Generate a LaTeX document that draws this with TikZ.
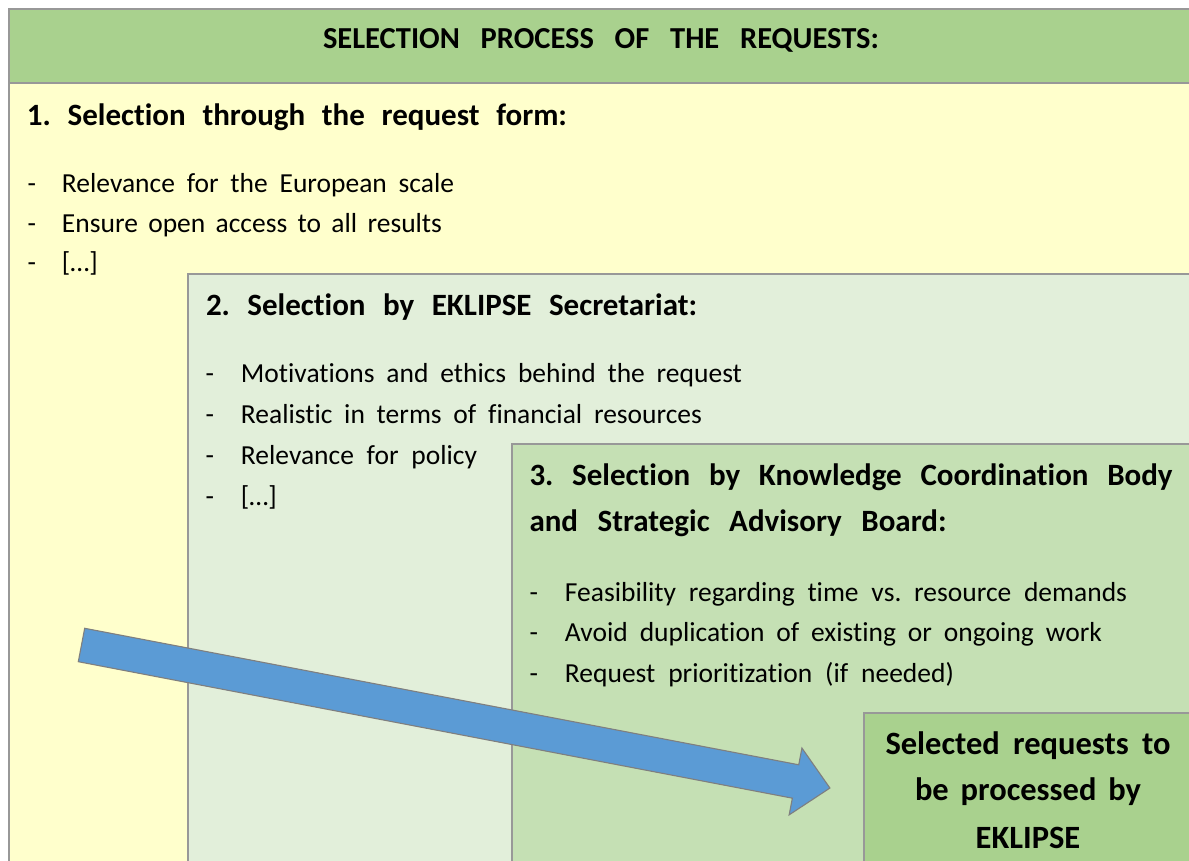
\documentclass[tikz,border=0pt]{standalone}
\usepackage{fontspec}
\setmainfont{Carlito}[Ligatures=NoCommon]
\usetikzlibrary{calc}
\definecolor{hdrgreen}{HTML}{A9D18E}
\definecolor{paleyellow}{HTML}{FFFFCC}
\definecolor{palegreen}{HTML}{E2EFDA}
\definecolor{midgreen}{HTML}{C5E0B4}
\definecolor{arrowblue}{HTML}{5B9BD5}
\definecolor{bordergray}{HTML}{989898}
\definecolor{arrowedge}{HTML}{7F7F7F}
\newcommand{\fitw}[2]{\makebox[#1][s]{#2}}
\frenchspacing
\begin{document}
\begin{tikzpicture}[x=1pt,y=-1pt,
  panel/.style={draw=bordergray, line width=1.5pt, anchor=north west, inner sep=0pt, outer sep=0pt},
  txt/.style={anchor=base west, inner sep=0pt, outer sep=0pt, text=black},
  headtxt/.style={txt, font=\fontsize{31}{37}\selectfont\bfseries},
  itemtxt/.style={txt, font=\fontsize{27.5}{33}\selectfont},
  titletxt/.style={txt, anchor=base, font=\fontsize{30.5}{36}\selectfont\bfseries},
  resulttxt/.style={txt, anchor=base, font=\fontsize{32.5}{38}\selectfont\bfseries},
  bigarrow/.style={fill=arrowblue, draw=arrowedge, line width=1.1pt, line join=miter}
]
\useasboundingbox (0,0) rectangle (1189,861);
\clip (0,0) rectangle (1189,861);

% panels
\node[panel, fill=paleyellow, minimum width=1200pt, minimum height=870pt] (p1) at (9,9) {};
\node[panel, fill=hdrgreen, minimum width=1200pt, minimum height=74pt] (hdr) at (9,9) {};
\node[panel, fill=palegreen, minimum width=1020pt, minimum height=620pt] (p2) at (188,274) {};
\node[panel, fill=midgreen, minimum width=700pt, minimum height=440pt] (p3) at (512,444) {};
\node[panel, fill=hdrgreen, minimum width=340pt, minimum height=170pt] (p4) at (864,713) {};

% title
\node[titletxt] (title) at (601,48.3) {\fitw{556pt}{SELECTION PROCESS OF THE REQUESTS:}};

% box 1
\node[headtxt] (h1) at (27,126) {\fitw{540pt}{1. Selection through the request form:}};
\node[itemtxt] (i1a) at (27.5,192.7) {\makebox[34.5pt][l]{-}\fitw{392pt}{Relevance for the European scale}};
\node[itemtxt] (i1b) at (27.5,232.3) {\makebox[34.5pt][l]{-}\fitw{380pt}{Ensure open access to all results}};
\node[itemtxt] (i1c) at (27.5,272) {\makebox[34.5pt][l]{-}[…]};

% box 2
\node[headtxt] (h2) at (206,315) {\fitw{491pt}{2. Selection by EKLIPSE Secretariat:}};
\node[itemtxt] (i2a) at (205.5,382.7) {\makebox[35.5pt][l]{-}\fitw{501pt}{Motivations and ethics behind the request}};
\node[itemtxt] (i2b) at (205.5,423) {\makebox[35.5pt][l]{-}\fitw{461pt}{Realistic in terms of financial resources}};
\node[itemtxt] (i2c) at (205.5,464) {\makebox[35.5pt][l]{-}\fitw{236pt}{Relevance for policy}};
\node[itemtxt] (i2d) at (205.5,505) {\makebox[35.5pt][l]{-}[…]};

% box 3
\node[headtxt] (h3a) at (529.5,485) {\fitw{643pt}{3. Selection by Knowledge Coordination Body}};
\node[headtxt] (h3b) at (529.5,531.7) {\fitw{417pt}{and Strategic Advisory Board:}};
\node[itemtxt] (i3a) at (529.5,601) {\makebox[35.5pt][l]{-}\fitw{562pt}{Feasibility regarding time vs. resource demands}};
\node[itemtxt] (i3b) at (529.5,641.7) {\makebox[35.5pt][l]{-}\fitw{537pt}{Avoid duplication of existing or ongoing work}};
\node[itemtxt] (i3c) at (529.5,682) {\makebox[35.5pt][l]{-}\fitw{389pt}{Request prioritization (if needed)}};

% box 4
\node[resulttxt] (r1) at (1028,754) {\fitw{285pt}{Selected requests to}};
\node[resulttxt] (r2) at (1028,800.7) {\fitw{226pt}{be processed by}};
\node[resulttxt] (r3) at (1028,848) {EKLIPSE};

% arrow
\coordinate (atail) at (81.5,645);
\begin{scope}[shift={(atail)}, rotate=-10.82]
  \draw[bigarrow] (0,-17) -- (727,-17) -- (727,-34) -- (762,0) -- (727,34) -- (727,17) -- (0,17) -- cycle;
  \coordinate (atip) at (762,0);
\end{scope}
\end{tikzpicture}
\end{document}
